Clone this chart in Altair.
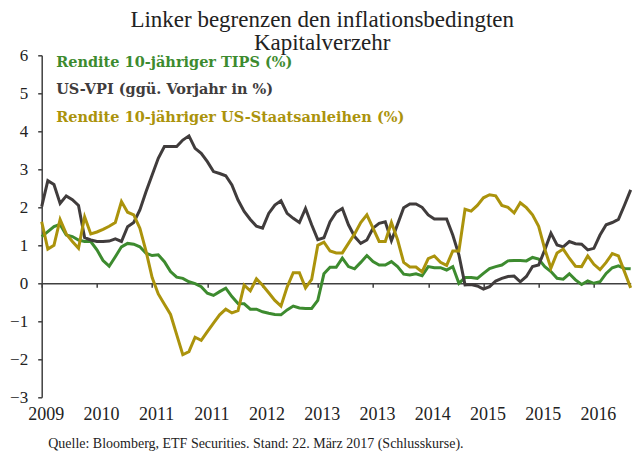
import altair as alt
import pandas as pd

series_names = ["Rendite 10-jähriger TIPS (%)", "US-VPI (ggü. Vorjahr in %)",
                "Rendite 10-jähriger US-Staatsanleihen (%)"]
series_colors = ["#3d8b2f", "#403c3c", "#ab930c"]
tick_labels = ["2009", "2010", "2011", "2011", "2012", "2013", "2013", "2014", "2015", "2015", "2016"]
tick_step = 9

tips = [1.23, 1.36, 1.49, 1.55, 1.27, 1.23, 1.14, 1.1, 1.1, 0.88,
        0.6, 0.45, 0.7, 0.96, 1.05, 1.03, 0.96, 0.79, 0.73, 0.75,
        0.57, 0.31, 0.16, 0.13, 0.04, -0.01, -0.09, -0.26, -0.32, -0.22,
        -0.13, -0.35, -0.53, -0.54, -0.68, -0.68, -0.75, -0.79, -0.82, -0.83,
        -0.7, -0.6, -0.65, -0.66, -0.66, -0.45, 0.25, 0.42, 0.42, 0.66,
        0.44, 0.38, 0.55, 0.73, 0.57, 0.48, 0.48, 0.57, 0.44, 0.24,
        0.22, 0.25, 0.2, 0.44, 0.41, 0.41, 0.35, 0.44, 0.0, 0.15,
        0.15, 0.13, 0.26, 0.39, 0.44, 0.48, 0.59, 0.6, 0.6, 0.59,
        0.68, 0.64, 0.44, 0.31, 0.13, 0.11, 0.25, 0.09, -0.03, 0.06,
        0.0, 0.04, 0.26, 0.41, 0.46, 0.39, 0.38]

cpi = [2.02, 2.7, 2.6, 2.1, 2.3, 2.2, 2.05, 1.2, 1.14, 1.1,
       1.1, 1.11, 1.17, 1.1, 1.49, 1.6, 1.93, 2.41, 2.85, 3.29,
       3.6, 3.6, 3.6, 3.77, 3.88, 3.55, 3.42, 3.2, 2.94, 2.89,
       2.83, 2.59, 2.19, 1.89, 1.68, 1.5, 1.45, 1.84, 2.06, 2.17,
       1.84, 1.71, 1.6, 1.97, 1.54, 1.15, 1.2, 1.62, 1.87, 1.97,
       1.54, 1.23, 1.05, 1.14, 1.45, 1.58, 1.62, 1.12, 1.55, 1.99,
       2.09, 2.09, 2.0, 1.8, 1.69, 1.69, 1.69, 1.27, 0.75, -0.04,
       -0.03, -0.07, -0.15, -0.09, 0.06, 0.13, 0.18, 0.19, 0.04, 0.18,
       0.44, 0.48, 0.88, 1.32, 1.01, 0.96, 1.1, 1.04, 1.03, 0.88,
       0.92, 1.27, 1.54, 1.6, 1.68, 2.06, 2.46]

ust = [1.62, 0.9, 1.0, 1.68, 1.3, 1.1, 0.92, 1.75, 1.3, 1.35,
       1.42, 1.5, 1.6, 2.15, 1.87, 1.8, 1.45, 0.85, 0.15, -0.28,
       -0.55, -0.82, -1.35, -1.88, -1.8, -1.42, -1.5, -1.27, -1.05, -0.83,
       -0.68, -0.78, -0.72, -0.05, -0.2, 0.12, -0.05, -0.25, -0.45, -0.6,
       -0.1, 0.28, 0.28, -0.12, 0.1, 1.0, 1.08, 0.85, 0.8, 0.8,
       1.05, 1.3, 1.6, 1.8, 1.45, 1.1, 1.1, 1.6, 1.15, 0.55,
       0.43, 0.43, 0.3, 0.65, 0.72, 0.55, 0.47, 0.85, 0.85, 1.95,
       1.9, 2.05, 2.25, 2.33, 2.3, 2.05, 2.0, 1.85, 2.12, 1.99,
       1.8, 1.5, 0.9, 0.4, 0.8, 0.9, 0.66, 0.45, 0.44, 0.72,
       0.5, 0.36, 0.55, 0.78, 0.72, 0.3, -0.12]

y_ticks = list(range(-3, 7))
footer = "Quelle: Bloomberg, ETF Securities. Stand: 22. März 2017 (Schlusskurse)."
title_lines = ["Linker begrenzen den inflationsbedingten", "Kapitalverzehr"]

n = len(cpi)
rows = []
for name, vals in zip(series_names, [tips, cpi, ust]):
    for i, v in enumerate(vals):
        rows.append({"t": i, "value": v, "series": name})
df = pd.DataFrame(rows)

label_array = "[" + ",".join("'" + s + "'" for s in tick_labels) + "]"
serif = "Liberation Serif"
axis_grey = "#404040"

chart = alt.Chart(df).mark_line(strokeWidth=3).encode(
    x=alt.X("t:Q",
            scale=alt.Scale(domain=[0, n - 1], nice=False, zero=False),
            axis=alt.Axis(values=list(range(0, tick_step * len(tick_labels), tick_step)),
                          labelExpr=label_array + "[round(datum.value / %d)]" % tick_step,
                          offset={"expr": "scale('y', 0) - height"},
                          grid=False, domainColor=axis_grey, domainWidth=1.5,
                          tickColor=axis_grey, tickWidth=1.5, tickSize=4,
                          labelPadding=118, labelOffset=4, labelFlush=False,
                          labelOverlap=False, labelFont=serif,
                          labelFontSize=18, labelColor="#222222", labelAngle=0,
                          title=footer, titleFont=serif, titleFontSize=14,
                          titleFontWeight="normal", titleColor="#222222",
                          titleAlign="left", titleAnchor="start", titleBaseline="middle",
                          titleX=6, titleY=160)),
    y=alt.Y("value:Q",
            scale=alt.Scale(domain=[-3, 6], nice=False, zero=False),
            axis=alt.Axis(values=y_ticks, grid=False, title=None,
                          domainColor=axis_grey, domainWidth=1.5,
                          tickColor=axis_grey, tickWidth=1.5, tickSize=4,
                          labelPadding=10, labelFont=serif, labelFontSize=17,
                          labelColor="#222222")),
    color=alt.Color("series:N",
                    scale=alt.Scale(domain=series_names, range=series_colors),
                    legend=alt.Legend(orient="none", legendX=0, legendY=0, title=None,
                                      symbolSize=0, symbolStrokeWidth=0, symbolOpacity=0,
                                      labelOffset=0, padding=0, rowPadding=12.5,
                                      labelFont="DejaVu Serif", labelFontWeight="bold",
                                      labelFontSize=14.5, labelLimit=0,
                                      labelColor={"expr": "scale('color', datum.value)"})),
    order="t:Q",
).properties(
    width=589, height=342,
    padding={"left": 33.7, "top": 47.3, "right": 4, "bottom": 57},
    autosize=alt.AutoSizeParams(type="none"),
    title=alt.TitleParams(text=title_lines, font=serif, fontSize=23, fontWeight="normal",
                          color="#222222", anchor="middle", dx=-14, lineHeight=23, offset=-9),
).configure_view(stroke=None)

chart.save("out.html", embed_options={"renderer": "svg", "actions": False})
